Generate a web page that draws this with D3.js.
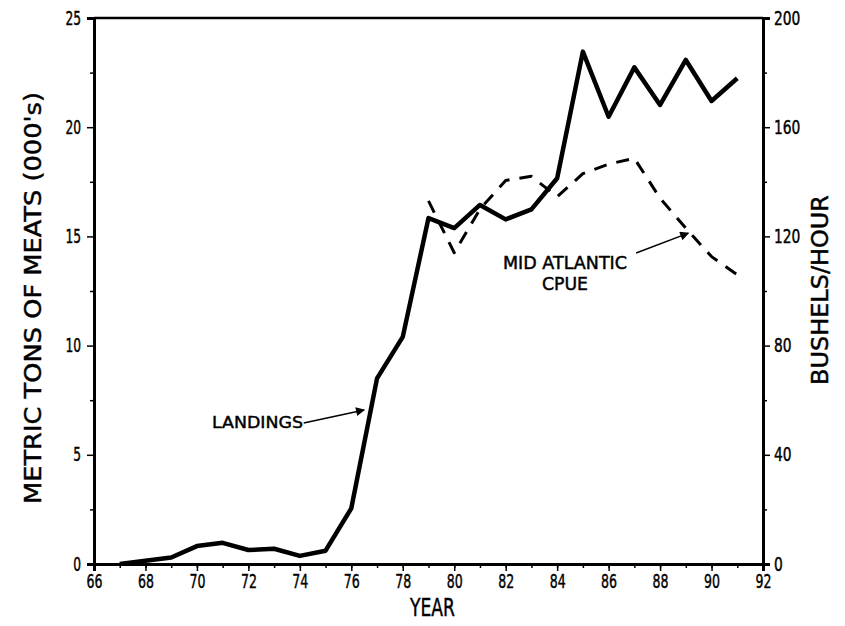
<!DOCTYPE html>
<html>
<head>
<meta charset="utf-8">
<script src="https://cdn.jsdelivr.net/npm/d3@7"></script>
<style>
  body { margin: 0; background: #fff; }
  svg text { font-family: "DejaVu Sans", sans-serif; fill: #000; stroke: #000; stroke-width: 0.45px; }
</style>
</head>
<body>
<svg id="chart" width="845" height="626"></svg>
<script>
// ---- data ----
const landingYears = [67, 68, 69, 70, 71, 72, 73, 74, 75, 76, 77, 78, 79, 80, 81, 82, 83, 84, 85, 86, 87, 88, 89, 90, 91];
const landings =     [0.0, 0.15, 0.3, 0.82, 0.97, 0.64, 0.7, 0.37, 0.61, 2.55, 8.5, 10.4, 15.84, 15.38, 16.44, 15.78, 16.24, 17.66, 23.46, 20.48, 22.74, 21.02, 23.08, 21.2, 22.24];
const cpueYears = [79, 80, 81, 82, 83, 84, 85, 86, 87, 88, 89, 90, 91];
const cpue =      [133, 114, 130, 140.5, 142, 134.5, 143, 146.5, 148.6, 134, 123, 112.6, 105.9];
const xTicks = [66, 68, 70, 72, 74, 76, 78, 80, 82, 84, 86, 88, 90, 92];
const yLeftTicks = [0, 5, 10, 15, 20, 25];
const yRightTicks = [0, 40, 80, 120, 160, 200];
const labels = { x: "YEAR", yLeft: "METRIC TONS OF MEATS (000's)", yRight: "BUSHELS/HOUR",
                 landings: "LANDINGS", cpue1: "MID ATLANTIC", cpue2: "CPUE" };

// ---- layout ----
const W = 845, H = 626;
const m = { left: 94, right: 82, top: 18, bottom: 62 };
const svg = d3.select("#chart");

const x = d3.scaleLinear().domain([66, 92]).range([m.left, W - m.right]);
const yL = d3.scaleLinear().domain([0, 25]).range([H - m.bottom, m.top]);
const yR = d3.scaleLinear().domain([0, 200]).range([H - m.bottom, m.top]);

function narrow(sel, perChar) {
  sel.attr("font-family", null).attr("font-size", null);
  sel.selectAll("text").each(function() {
    const t = d3.select(this);
    t.attr("font-size", 19).attr("lengthAdjust", "spacingAndGlyphs")
     .attr("textLength", t.text().length * perChar);
  });
}

// frame top line
svg.append("line").attr("x1", x(66)).attr("x2", x(92)).attr("y1", yL(25)).attr("y2", yL(25))
  .attr("stroke", "#000").attr("stroke-width", 2.5);

// x axis
const gx = svg.append("g").attr("transform", `translate(0,${yL(0)})`);
gx.call(d3.axisBottom(x).tickValues(d3.range(66, 93, 1)).tickSize(4).tickFormat(""));
const gx2 = svg.append("g").attr("transform", `translate(0,${yL(0)})`);
gx2.call(d3.axisBottom(x).tickValues(xTicks).tickSize(7).tickPadding(4).tickFormat(d3.format("d")));
[gx, gx2].forEach(g => { g.select(".domain").attr("stroke-width", 3); g.selectAll(".tick line").attr("stroke-width", 1.5); });
narrow(gx2, 8);

// left axis
const gl0 = svg.append("g").attr("transform", `translate(${x(66)},0)`);
gl0.call(d3.axisLeft(yL).tickValues(d3.range(2.5, 25, 5)).tickSize(4).tickFormat(""));
const gl = svg.append("g").attr("transform", `translate(${x(66)},0)`);
gl.call(d3.axisLeft(yL).tickValues(yLeftTicks).tickSize(7).tickPadding(6));
[gl0, gl].forEach(g => { g.select(".domain").attr("stroke-width", 3); g.selectAll(".tick line").attr("stroke-width", 1.5); });
narrow(gl, 7.8);

// right axis
const gr0 = svg.append("g").attr("transform", `translate(${x(92)},0)`);
gr0.call(d3.axisRight(yR).tickValues(d3.range(20, 200, 40)).tickSize(4).tickFormat(""));
const gr = svg.append("g").attr("transform", `translate(${x(92)},0)`);
gr.call(d3.axisRight(yR).tickValues(yRightTicks).tickSize(7).tickPadding(4));
[gr0, gr].forEach(g => { g.select(".domain").attr("stroke-width", 3); g.selectAll(".tick line").attr("stroke-width", 1.5); });
narrow(gr, 8.8);

// axis titles
svg.append("text").attr("x", 410).attr("y", 616)
  .attr("font-size", 24).attr("textLength", 45).attr("lengthAdjust", "spacingAndGlyphs").text(labels.x);
svg.append("text").attr("transform", `translate(41,${298}) rotate(-90)`)
  .attr("text-anchor", "middle").attr("font-size", 23)
  .attr("textLength", 412).attr("lengthAdjust", "spacingAndGlyphs").text(labels.yLeft);
svg.append("text").attr("transform", `translate(828,290) rotate(-90)`)
  .attr("text-anchor", "middle").attr("font-size", 23)
  .attr("textLength", 190).attr("lengthAdjust", "spacingAndGlyphs").text(labels.yRight);

// lines
const lineL = d3.line().x((d, i) => x(landingYears[i])).y(d => yL(d));
const lineR = d3.line().x((d, i) => x(cpueYears[i])).y(d => yR(d));

svg.append("path").datum(cpue).attr("d", lineR).attr("fill", "none").attr("stroke", "#000")
  .attr("stroke-width", 3).attr("stroke-dasharray", "13,10").attr("stroke-linejoin", "round");
svg.append("path").datum(landings).attr("d", lineL).attr("fill", "none").attr("stroke", "#000")
  .attr("stroke-width", 4.5).attr("stroke-linejoin", "round");

// annotations
svg.append("defs").append("marker").attr("id", "arr").attr("viewBox", "0 0 10 10").attr("refX", 9).attr("refY", 5)
  .attr("markerWidth", 15).attr("markerHeight", 9).attr("markerUnits", "userSpaceOnUse").attr("orient", "auto")
  .append("path").attr("d", "M0,0 L10,5 L0,10 Z").attr("fill", "#000");

svg.append("text").attr("x", 212).attr("y", 428).attr("font-size", 16)
  .attr("textLength", 91).attr("lengthAdjust", "spacingAndGlyphs").text(labels.landings);
svg.append("line").attr("x1", x(74.15)).attr("y1", yL(6.46)).attr("x2", x(76.5)).attr("y2", yL(7.05))
  .attr("stroke", "#000").attr("stroke-width", 1.5).attr("marker-end", "url(#arr)");

svg.append("text").attr("x", 503).attr("y", 269).attr("font-size", 17)
  .attr("textLength", 124).attr("lengthAdjust", "spacingAndGlyphs").text(labels.cpue1);
svg.append("text").attr("x", 542).attr("y", 290).attr("font-size", 17)
  .attr("textLength", 46).attr("lengthAdjust", "spacingAndGlyphs").text(labels.cpue2);
svg.append("line").attr("x1", x(87.07)).attr("y1", yR(113.9)).attr("x2", x(89.1)).attr("y2", yR(121.2))
  .attr("stroke", "#000").attr("stroke-width", 1.5).attr("marker-end", "url(#arr)");
</script>
</body>
</html>
